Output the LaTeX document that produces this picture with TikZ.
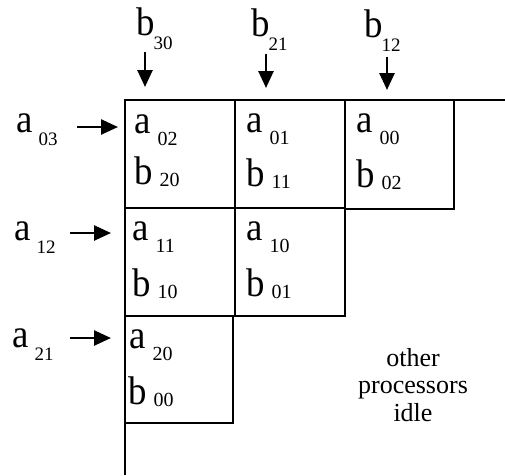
\documentclass[tikz,border=0pt]{standalone}
\usepackage{graphicx}
\usepackage{fontspec}
\setmainfont{Liberation Serif}
\usetikzlibrary{arrows.meta}
\newcommand{\Ltr}[1]{\scalebox{1.15}[1.25]{\fontsize{32}{32}\selectfont #1}}
\newcommand{\Dig}[3]{\raisebox{#1}{\fontsize{#2}{#2}\selectfont #3}}
\newcommand{\cella}[1]{\Ltr{a}\hspace{7pt}\Dig{-12pt}{20}{#1}}
\newcommand{\cellb}[1]{\Ltr{b}\hspace{7pt}\Dig{-2pt}{20}{#1}}
\newcommand{\topb}[1]{\Ltr{b}\hspace{-1pt}\Dig{-14pt}{19}{#1}}
\newcommand{\lefta}[1]{\Ltr{a}\hspace{6pt}\Dig{-13pt}{19}{#1}}
\tikzset{
  cell/.style={draw, line width=2.4pt, rectangle, inner sep=0pt, outer sep=0pt,
    minimum width=110pt, minimum height=108pt, anchor=north west},
  txt/.style={inner sep=0pt, anchor=base west},
  arr/.style={line width=2.6pt, -{Triangle[width=15pt,length=17pt]}},
  frame/.style={line width=2.4pt}
}
\begin{document}
\begin{tikzpicture}[x=1pt,y=-1pt]
\useasboundingbox (0,0) rectangle (505,475);
% cells
\node[cell] (c11) at (125,100) {};
\node[cell] (c12) at (235,100) {};
\node[cell, minimum width=109pt, minimum height=109pt] (c13) at (345,100) {};
\node[cell] (c21) at (125,208) {};
\node[cell] (c22) at (235,208) {};
\node[cell, minimum width=108pt, minimum height=107pt] (c31) at (125,316) {};
% frame lines
\coordinate (tr) at (505,100);
\coordinate (bl) at (125,475);
\draw[frame] (c11.north west) -- (tr);
\draw[frame] (c11.north west) -- (bl);
% cell texts
\node[txt] (t11a) at ([shift={(9,33)}]c11.north west) {\cella{02}};
\node[txt] (t11b) at ([shift={(9,84)}]c11.north west) {\cellb{20}};
\node[txt] (t12a) at ([shift={(11,32)}]c12.north west) {\cella{01}};
\node[txt] (t12b) at ([shift={(11,86)}]c12.north west) {\cellb{11}};
\node[txt] (t13a) at ([shift={(11,32)}]c13.north west) {\cella{00}};
\node[txt] (t13b) at ([shift={(11,87)}]c13.north west) {\cellb{02}};
\node[txt] (t21a) at ([shift={(7,32)}]c21.north west) {\cella{11}};
\node[txt] (t21b) at ([shift={(7,88)}]c21.north west) {\cellb{10}};
\node[txt] (t22a) at ([shift={(11,32)}]c22.north west) {\cella{10}};
\node[txt] (t22b) at ([shift={(11,88)}]c22.north west) {\cellb{01}};
\node[txt] (t31a) at ([shift={(4,32)}]c31.north west) {\cella{20}};
\node[txt] (t31b) at ([shift={(3,88)}]c31.north west) {\cellb{00}};
% top inputs
\node[txt] (tb1) at (136,35) {\topb{30}};
\node[txt] (tb2) at (251,36) {\topb{21}};
\node[txt] (tb3) at (364,37) {\topb{12}};
\coordinate (eb1) at (145,87);
\coordinate (eb2) at (266,88);
\coordinate (eb3) at (387,90);
\draw[arr, shorten <=3pt] (tb1.south -| eb1) -- (eb1);
\draw[arr, shorten <=4pt] (tb2.south -| eb2) -- (eb2);
\draw[arr, shorten <=6pt] (tb3.south -| eb3) -- (eb3);
% left inputs
\node[txt] (la1) at (16,132) {\lefta{03}};
\node[txt] (la2) at (14,240) {\lefta{12}};
\node[txt] (la3) at (12,347) {\lefta{21}};
\coordinate (ea1) at (118,127);
\coordinate (ea2) at (111,233);
\coordinate (ea3) at (111,338);
\draw[arr] (ea1 -| 77,0) -- (ea1);
\draw[arr] (ea2 -| 70,0) -- (ea2);
\draw[arr] (ea3 -| 70,0) -- (ea3);
% idle note
\node[align=center, inner sep=0pt, font=\fontsize{26}{27.5}\selectfont] (idle) at (413,385) {other\\processors\\idle};
\end{tikzpicture}
\end{document}
